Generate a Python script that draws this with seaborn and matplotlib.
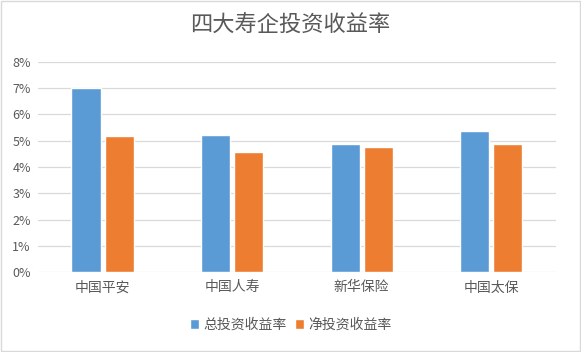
import matplotlib
matplotlib.use("Agg")
import matplotlib.pyplot as plt
import pandas as pd
import seaborn as sns
from matplotlib.patches import Rectangle
from matplotlib.ticker import FuncFormatter

companies = ["中国平安", "中国人寿", "新华保险", "中国太保"]
series_names = ["总投资收益率", "净投资收益率"]
total_yield = [7.0, 5.23, 4.89, 5.38]
net_yield = [5.2, 4.58, 4.77, 4.89]
colors = ["#5B9BD5", "#ED7D31"]

df = pd.DataFrame({
    "company": companies * 2,
    "series": [series_names[0]] * 4 + [series_names[1]] * 4,
    "value": total_yield + net_yield,
})

sns.set_theme(style="white")
plt.rcParams["font.family"] = ["Noto Sans CJK SC", "DejaVu Sans"]

fig = plt.figure(figsize=(5.81, 3.52), dpi=100)
ax = fig.add_axes([0.065, 0.227, 0.892, 0.597])

sns.barplot(data=df, x="company", y="value", hue="series", palette=colors,
            width=0.51, gap=0.12, saturation=1, ax=ax, legend=True)

ax.set_ylim(0, 8)
ax.set_yticks(range(0, 9))
ax.yaxis.set_major_formatter(FuncFormatter(lambda v, _: f"{int(v)}%"))
ax.grid(axis="y", color="#D9D9D9", lw=0.9)
ax.set_axisbelow(True)
for s in ax.spines.values():
    s.set_visible(False)
ax.set_xlabel(""); ax.set_ylabel("")
ax.tick_params(axis="both", length=0, colors="#595959", labelsize=9)
ax.tick_params(axis="x", pad=6, labelsize=10)
ax.tick_params(axis="y", pad=5)

handles, labels = ax.get_legend_handles_labels()
ax.get_legend().remove()
fig.legend(handles, labels, loc="center", bbox_to_anchor=(0.5, 0.077), ncol=2,
           frameon=False, fontsize=10, handlelength=0.65, handleheight=0.65,
           handletextpad=0.3, columnspacing=0.6, labelcolor="#595959")

fig.text(0.5, 0.927, "四大寿企投资收益率", ha="center", va="center",
         fontsize=16, color="#595959")

fig.patches.append(Rectangle((0.001, 0.002), 0.997, 0.995, transform=fig.transFigure,
                             fill=False, edgecolor="#D9D9D9", lw=1))

fig.savefig("out.png", dpi=100)
